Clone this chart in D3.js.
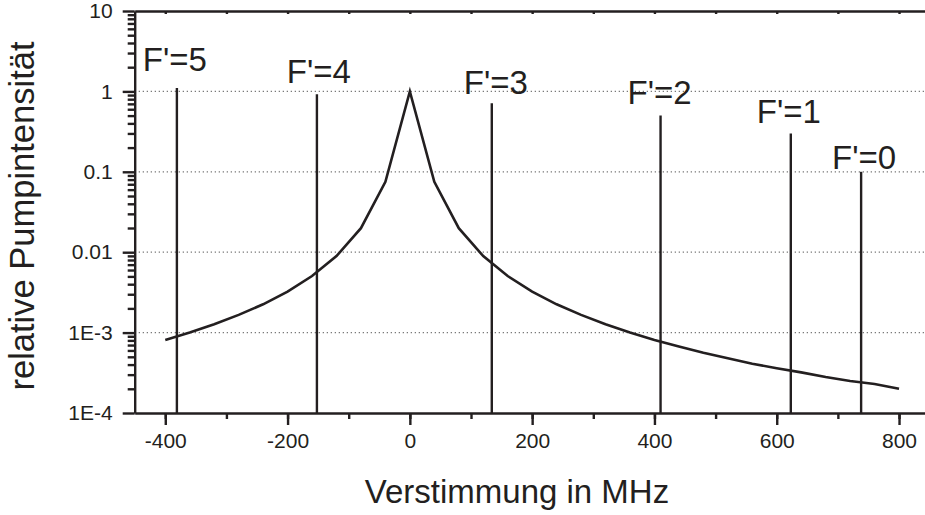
<!DOCTYPE html>
<html>
<head>
<meta charset="utf-8">
<script src="https://cdn.jsdelivr.net/npm/d3@7"></script>
<style>
  body { margin: 0; background: #fff; }
  text { font-family: "Liberation Sans", Arial, sans-serif; fill: #231f20; }
  .tick text { font-size: 21px; }
  .domain, .tick line { stroke: #231f20; stroke-width: 2.4; }
</style>
</head>
<body>
<div id="chart"></div>
<script>
const width = 925;
const height = 515;

// pump profile, sampled every 40 MHz
const detuning = [-400, -360, -320, -280, -240, -200, -160, -120, -80, -40, 0,
   40, 80, 120, 160, 200, 240, 280, 320, 360, 400,
   440, 480, 520, 560, 600, 640, 680, 720, 760, 800];
const intensity = [0.00081, 0.00100, 0.00127, 0.00166, 0.00225, 0.00324, 0.00505, 0.00895, 0.0199, 0.0751, 1,
   0.0751, 0.0199, 0.00895, 0.00505, 0.00324, 0.00225, 0.00166, 0.00127, 0.00100, 0.00081,
   0.00067, 0.00056, 0.00048, 0.00041, 0.00036, 0.00032, 0.00028, 0.00025, 0.00023, 0.00020];

// hyperfine components
const levels = ["F'=5", "F'=4", "F'=3", "F'=2", "F'=1", "F'=0"];
const levelPos = [-381, -152, 134, 410, 623, 738];
const levelHeight = [1.1, 0.92, 0.71, 0.5, 0.3, 0.1];

const xTicks = [-400, -200, 0, 200, 400, 600, 800];
const yTicks = [10, 1, 0.1, 0.01, 1e-3, 1e-4];
const yTickLabels = ["10", "1", "0.1", "0.01", "1E-3", "1E-4"];
const gridValues = [1, 0.1, 0.01, 1e-3];

// label nudges (px) relative to top of each line
const labelDx = [-2, 2, 4, -1, -2, 3];
const labelDy = [17, 11, 9, 12, 10, 3];

const svg = d3.select("#chart").append("svg")
   .attr("width", width)
   .attr("height", height);

const x = d3.scaleLinear()
   .domain([-450, 850])
   .range([134.7, 929.6]);

const y = d3.scaleLog()
   .domain([1e-4, 10])
   .range([413, 11]);

const ink = "#231f20";

// dotted grid
svg.selectAll("line.grid")
   .data(gridValues)
   .enter()
   .append("line")
   .attr("class", "grid")
   .attr("x1", x.range()[0])
   .attr("x2", x.range()[1])
   .attr("y1", d => y(d))
   .attr("y2", d => y(d))
   .style("stroke", "#7a7a7a")
   .style("stroke-width", 1.2)
   .style("stroke-dasharray", "1.3,2.7");

// minor x ticks every 100
const xMinor = d3.range(-400, 801, 100);

// bottom axis: minor then major
svg.append("g")
   .attr("transform", `translate(0,${y.range()[0]})`)
   .call(d3.axisBottom(x).tickValues(xMinor).tickSize(6).tickSizeOuter(0).tickFormat(""));
svg.append("g")
   .attr("transform", `translate(0,${y.range()[0]})`)
   .call(d3.axisBottom(x).tickValues(xTicks).tickSize(12).tickSizeOuter(0).tickPadding(8).tickFormat(d => String(d)))
   .call(g => g.select(".domain").remove());

// top axis, small inward ticks
svg.append("g")
   .attr("transform", `translate(0,${y.range()[1]})`)
   .call(d3.axisBottom(x).tickValues(xMinor).tickSize(3).tickSizeOuter(0).tickFormat(""));

// left axis: minor log ticks and major decades
const yMinor = y.ticks().filter(d => yTicks.indexOf(d) < 0);
svg.append("g")
   .attr("transform", `translate(${x.range()[0]},0)`)
   .call(d3.axisLeft(y).tickValues(yMinor).tickSize(7).tickSizeOuter(0).tickFormat(""));
svg.append("g")
   .attr("transform", `translate(${x.range()[0]},0)`)
   .call(d3.axisLeft(y).tickValues(yTicks).tickSize(12).tickSizeOuter(0).tickPadding(10)
      .tickFormat((d, i) => yTickLabels[i]))
   .call(g => g.select(".domain").remove());

// hyperfine lines
svg.selectAll("line.level")
   .data(levels)
   .enter()
   .append("line")
   .attr("class", "level")
   .attr("x1", (d, i) => x(levelPos[i]))
   .attr("x2", (d, i) => x(levelPos[i]))
   .attr("y1", y(1e-4))
   .attr("y2", (d, i) => y(levelHeight[i]))
   .style("stroke", ink)
   .style("stroke-width", 2.4);

svg.selectAll("text.levelLabel")
   .data(levels)
   .enter()
   .append("text")
   .attr("class", "levelLabel")
   .attr("x", (d, i) => x(levelPos[i]) + labelDx[i])
   .attr("y", (d, i) => y(levelHeight[i]) - labelDy[i])
   .style("text-anchor", "middle")
   .style("font-size", "33px")
   .text(d => d);

// pump profile
const line = d3.line()
   .x((d, i) => x(detuning[i]))
   .y(d => y(d));

svg.append("path")
   .datum(intensity)
   .attr("d", line)
   .style("fill", "none")
   .style("stroke", ink)
   .style("stroke-width", 2.6)
   .style("stroke-linejoin", "miter");

// axis titles
svg.append("text")
   .attr("x", 517)
   .attr("y", 503)
   .style("text-anchor", "middle")
   .style("font-size", "33px")
   .text("Verstimmung in MHz");

svg.append("text")
   .attr("transform", "translate(34,216) rotate(-90)")
   .style("text-anchor", "middle")
   .style("font-size", "34.5px")
   .text("relative Pumpintensität");
</script>
</body>
</html>
